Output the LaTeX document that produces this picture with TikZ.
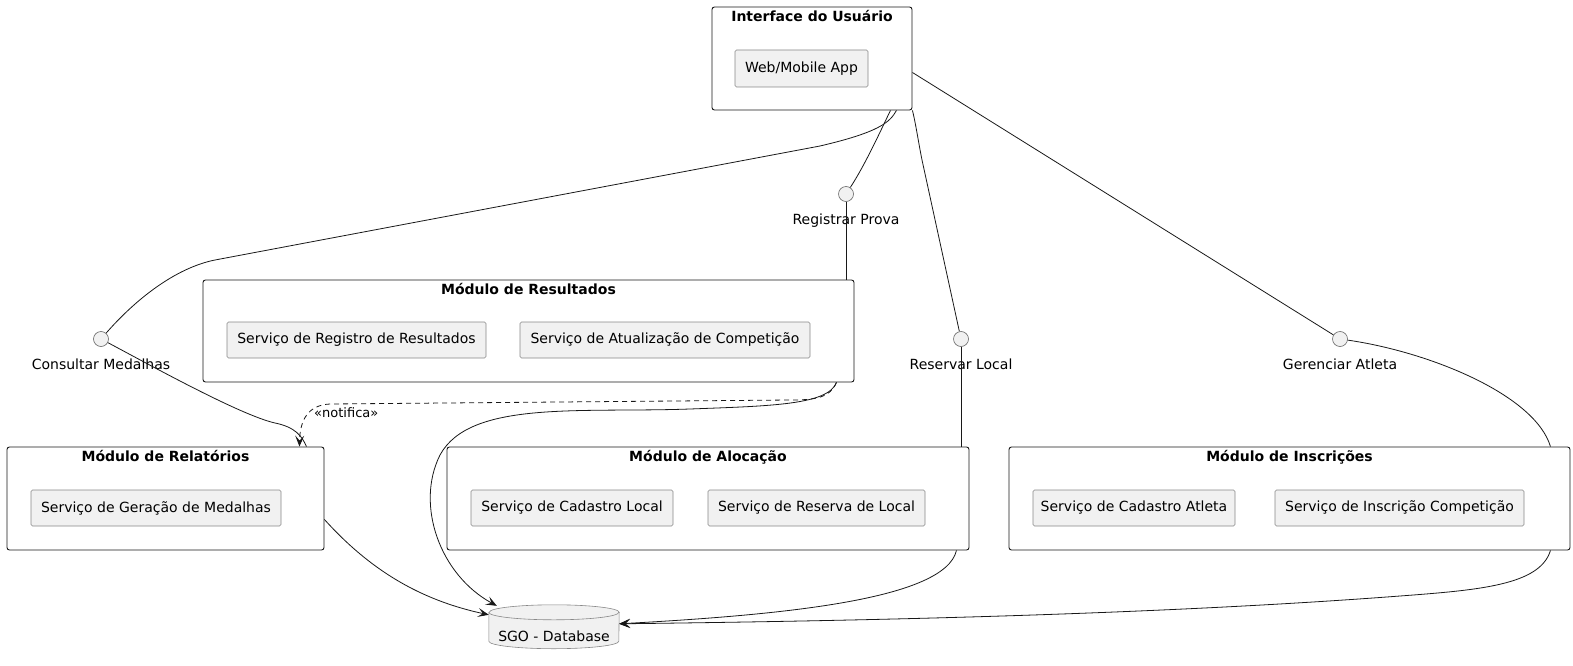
\documentclass[tikz,border=0pt]{standalone}
\usepackage{fontspec}
\setmainfont{DejaVu Sans}
\usetikzlibrary{arrows.meta}
\definecolor{boxfill}{HTML}{F1F1F1}
\definecolor{linec}{HTML}{181818}
\definecolor{compline}{HTML}{888888}
\definecolor{circline}{HTML}{666666}
\begin{document}
\begin{tikzpicture}[x=1pt,y=-1pt,font=\fontsize{14}{16}\selectfont,
  container/.style={draw=linec,line width=0.9pt,rounded corners=2.5pt,inner sep=0pt,fill=white},
  title/.style={anchor=base,yshift=-15pt,inner sep=0pt,font=\bfseries\fontsize{14}{16}\selectfont},
  comp/.style={draw=compline,fill=boxfill,line width=0.6pt,rounded corners=1.5pt,inner sep=0pt,minimum height=36pt},
  iface/.style={circle,draw=circline,fill=boxfill,line width=0.6pt,minimum size=15pt,inner sep=0pt},
  ilabel/.style={anchor=base,yshift=-22.5pt,inner sep=0pt},
  conn/.style={draw=linec,line width=0.8pt},
  arr/.style={conn,-{Stealth[length=11pt,width=9pt,inset=5pt]}},
  dbst/.style={draw=compline,fill=boxfill,line width=0.6pt}]
\useasboundingbox (0,0) rectangle (1573,666);

% containers
\node[container,minimum width=200pt,minimum height=103pt,label={[title]north:Interface do Usuário}] (ui) at (812,58.5) {};
\node[comp,minimum width=133pt,minimum height=37pt] (web) at (801.5,68.5) {Web/Mobile App};

\node[container,minimum width=651pt,minimum height=102pt,label={[title]north:Módulo de Resultados}] (res) at (528.5,331) {};
\node[comp,minimum width=259pt] (reg) at (356.5,340) {Serviço de Registro de Resultados};
\node[comp,minimum width=290pt] (atu) at (665,340) {Serviço de Atualização de Competição};

\node[container,minimum width=317pt,minimum height=103pt,label={[title]north:Módulo de Relatórios}] (rel) at (165.5,498.5) {};
\node[comp,minimum width=250pt] (ger) at (156,508) {Serviço de Geração de Medalhas};

\node[container,minimum width=522pt,minimum height=103pt,label={[title]north:Módulo de Alocação}] (aloc) at (708,498.5) {};
\node[comp,minimum width=202pt] (cadl) at (572,508) {Serviço de Cadastro Local};
\node[comp,minimum width=217pt] (resl) at (816.5,508) {Serviço de Reserva de Local};

\node[container,minimum width=561pt,minimum height=103pt,label={[title]north:Módulo de Inscrições}] (ins) at (1289.5,498.5) {};
\node[comp,minimum width=202pt] (cada) at (1134,508) {Serviço de Cadastro Atleta};
\node[comp,minimum width=249pt] (insc) at (1399.5,508) {Serviço de Inscrição Competição};

% interfaces
\node[iface,label={[ilabel]south:Registrar Prova}] (rp) at (846,194) {};
\node[iface,label={[ilabel]south:Consultar Medalhas}] (cm) at (101,339) {};
\node[iface,label={[ilabel]south:Reservar Local}] (rl) at (961,339) {};
\node[iface,label={[ilabel]south:Gerenciar Atleta}] (ga) at (1340,339) {};

% database
\node[minimum width=130pt,minimum height=43.5pt,inner sep=0pt] (db) at (554,626.75) {};
\draw[dbst] ([yshift=-7.5pt]db.north west) -- ([yshift=7.5pt]db.south west)
  arc[start angle=180,end angle=360,x radius=65pt,y radius=7.5pt]
  -- ([yshift=-7.5pt]db.north east)
  arc[start angle=0,end angle=180,x radius=65pt,y radius=7.5pt] -- cycle;
\draw[dbst,fill=none] ([yshift=-7.5pt]db.north west) arc[start angle=180,end angle=360,x radius=65pt,y radius=7.5pt];
\node[anchor=base,inner sep=0pt] (dbl) at ([yshift=7pt]db.south) {SGO - Database};

% connectors
\draw[conn] ([xshift=-16pt]ui.south east) .. controls (890,122) and (880,132) .. (820,146) -- (215,260) .. controls (175,268) and (135,300) .. (cm);
\draw[conn] ([xshift=-22pt]ui.south east) .. controls (880,132) and (865,165) .. (rp);
\draw[conn] (ui.south east) .. controls (916,125) and (918,140) .. (922,160) -- (rl);
\draw[conn] ([yshift=-14pt]ui.east) -- (ga);
\draw[conn] (rp) -- (rp |- res.north);
\draw[conn] (rl) -- (rl |- aloc.north);
\draw[conn] (ga) .. controls (1430,352) and (1535,395) .. ([xshift=-20pt]ins.north east);
\draw[conn] (cm) .. controls (150,365) and (240,415) .. (275,423) .. controls (295,427) and (302,436) .. ([xshift=-18pt]rel.north east);

\draw[arr] ([xshift=-18pt]res.south east) .. controls (828,405) and (770,406) .. (690,409)
  .. controls (580,413) and (470,400) .. (440,455)
  .. controls (415,505) and (440,575) .. ([xshift=8pt,yshift=-1pt]db.north west);
\draw[arr,dash pattern=on 5pt off 4pt] ([xshift=-18pt]res.south east) .. controls (830,398) and (815,400) .. (790,400)
  -- (330,404) .. controls (308,405) and (300,420) .. ([xshift=-25pt]rel.north east);
\node[anchor=west,inner sep=0pt,font=\fontsize{13}{15}\selectfont] (nl) at (314,413) {«notifica»};

\draw[arr] ([yshift=-21pt]rel.east) .. controls (370,570) and (420,600) .. ([yshift=-10pt]db.north west);
\draw[arr] ([xshift=-13pt]aloc.south east) .. controls (945,600) and (780,615) .. ([yshift=-19pt]db.north east);
\draw[arr] ([xshift=-20pt]ins.south east) .. controls (1540,585) and (1480,590) .. (1400,596)
  .. controls (1150,615) and (850,621) .. ([yshift=-19pt]db.north east);
\end{tikzpicture}
\end{document}
